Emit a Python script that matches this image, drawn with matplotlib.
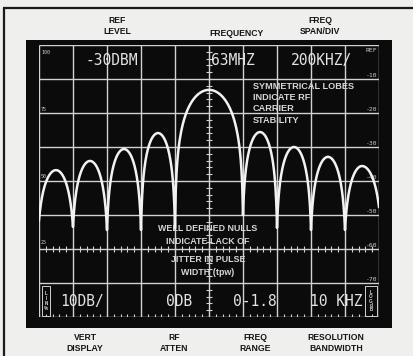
import numpy as np
import matplotlib
matplotlib.use('Agg')
import matplotlib.pyplot as plt
from matplotlib.patches import Rectangle

# spectrum trace, read per lobe: nulls (graticule divisions), null floors and lobe peaks (dB below REF)
null_div = [0, 1, 2, 3, 4, 6, 7, 8, 9, 10]
null_db = [-51.5, -53.5, -54.4, -54.4, -54.0, -50.0, -53.8, -54.4, -54.4, -47.6]
peak_db = [-36.8, -34.1, -30.6, -25.9, -13.2, -25.6, -30.0, -32.9, -35.6]

# crt readouts
top_readouts = ['-30DBM', '63MHZ', '200KHZ/']
top_readout_div = [2.15, 5.7, 8.3]
bottom_readouts = ['10DB/', '0DB', '0-1.8', '10 KHZ']
bottom_readout_div = [1.26, 4.12, 6.35, 8.74]

# scale labels printed on the graticule
lin_labels = ['100', '75', '50', '25']
lin_label_db = [-2.2, -19.1, -38.8, -58.2]
log_labels = ['REF', '-10', '-20', '-30', '-40', '-50', '-60', '-70']
log_label_db = [-1.5, -9.0, -19.0, -29.0, -39.0, -49.0, -59.0, -69.0]

# control names printed around the screen
top_names = ['REF\nLEVEL', 'FREQUENCY', 'FREQ\nSPAN/DIV']
bottom_names = ['VERT\nDISPLAY', 'RF\nATTEN', 'FREQ\nRANGE', 'RESOLUTION\nBANDWIDTH']

PAPER = '#efefed'
SCREEN = '#0b0b0b'
GRID = '#d2d2d2'
PHOSPHOR = '#f2f2f2'
CRT_FONT = ['Liberation Sans Narrow', 'DejaVu Sans Mono']
LABEL_FONT = ['Liberation Sans', 'DejaVu Sans']


def lobe(a, b, peak, fa, fb, k=1.15, n=90):
    # one sin(x)/x lobe in log scale, pinched so that it lands on the null floors
    t = np.linspace(0, 1, n)
    y = np.empty(n)
    left = t < 0.5
    for mask, floor in ((left, fa), (~left, fb)):
        t0 = np.arcsin(10 ** ((floor - peak) / (20 * k))) / np.pi
        te = t0 + t[mask] * (1 - 2 * t0)
        y[mask] = peak + k * 20 * np.log10(np.sin(np.pi * te))
    return a + t * (b - a), y


fig = plt.figure(figsize=(4.13, 3.56), dpi=100)
fig.patch.set_facecolor(PAPER)

# page layer in pixel units
bg = fig.add_axes([0, 0, 1, 1])
bg.set_xlim(0, 413)
bg.set_ylim(356, 0)
bg.axis('off')
bg.add_patch(Rectangle((26, 40), 366, 288, facecolor=SCREEN, edgecolor='none'))
bg.plot([3, 413], [8, 8], color='#1a1a1a', lw=1.6, solid_capstyle='butt')
bg.plot([4, 4], [8, 356], color='#1a1a1a', lw=1.6, solid_capstyle='butt')

for name, xc in zip(top_names, [117, 237, 320]):
    yc = 33 if '\n' not in name else 26
    bg.text(xc, yc, name, ha='center', va='center', fontsize=6.2, fontweight='bold',
            family=LABEL_FONT, color='#151515', linespacing=1.3)
for name, xc in zip(bottom_names, [85, 174, 255, 336]):
    bg.text(xc, 343, name, ha='center', va='center', fontsize=6.2, fontweight='bold',
            family=LABEL_FONT, color='#151515', linespacing=1.3)

# graticule: 10 x 8 divisions, 10 dB/div
ax = fig.add_axes([39 / 413, 1 - 317 / 356, 340 / 413, 272 / 356])
ax.set_xlim(0, 10)
ax.set_ylim(-80, 0)
ax.axis('off')
ax.patch.set_alpha(0)

ax.vlines(range(11), -80, 0, color=GRID, lw=1.0)
ax.hlines(range(-80, 1, 10), 0, 10, color=GRID, lw=1.0)

minor = np.arange(0, 10.01, 0.2)
ax.vlines(minor, -60.9, -59.1, color=GRID, lw=0.8)
ax.vlines(minor, -80, -79.0, color=GRID, lw=0.8)
ax.hlines(np.arange(-80, 0.1, 2), 4.91, 5.09, color=GRID, lw=0.8)

# trace
xs, ys = [], []
for i, peak in enumerate(peak_db):
    x, y = lobe(null_div[i], null_div[i + 1], peak, null_db[i], null_db[i + 1])
    xs.append(x)
    ys.append(y)
ax.plot(np.concatenate(xs), np.concatenate(ys), color=PHOSPHOR, lw=1.8,
        solid_joinstyle='round', zorder=4)

# readouts
for txt, xd in zip(top_readouts, top_readout_div):
    ax.text(xd, -4.7, txt, ha='center', va='center', fontsize=10.5, family=CRT_FONT,
            color='#e4e4e4', zorder=5)
for txt, xd in zip(bottom_readouts, bottom_readout_div):
    ax.text(xd, -75.3, txt, ha='center', va='center', fontsize=10.5, family=CRT_FONT,
            color='#e4e4e4', zorder=5)

for txt, yd in zip(lin_labels, lin_label_db):
    ax.text(0.06, yd, txt, ha='left', va='center', fontsize=3.6, family=CRT_FONT,
            color='#cfcfcf')
for txt, yd in zip(log_labels, log_label_db):
    ax.text(9.95, yd, txt, ha='right', va='center', fontsize=4.6, family=CRT_FONT,
            color='#cfcfcf')

# display mode boxes
ax.add_patch(Rectangle((0.1, -79.6), 0.22, 8.6, facecolor='none', edgecolor=GRID, lw=0.7))
ax.text(0.21, -75.3, 'L\nI\nN\n%', ha='center', va='center', fontsize=3.3,
        family=LABEL_FONT, fontweight='bold', color='#dcdcdc', linespacing=0.95)
ax.add_patch(Rectangle((9.6, -79.8), 0.33, 8.9, facecolor='none', edgecolor=GRID, lw=0.7))
ax.text(9.765, -75.3, 'L\nO\nG\nd\nB', ha='center', va='center', fontsize=3.3,
        family=LABEL_FONT, fontweight='bold', color='#dcdcdc', linespacing=0.85)

# callouts
for txt, yd in zip(['SYMMETRICAL LOBES', 'INDICATE RF', 'CARRIER', 'STABILITY'],
                   [-12.1, -15.4, -18.8, -22.3]):
    ax.text(6.29, yd, txt, ha='left', va='center', fontsize=6.6, fontweight='bold',
            family=LABEL_FONT, color='#d6d6d6', zorder=6)
for txt, yd in zip(['WELL DEFINED NULLS', 'INDICATE LACK OF', 'JITTER IN PULSE', 'WIDTH (tpw)'],
                   [-54.1, -57.9, -63.2, -66.8]):
    ax.text(4.97, yd, txt, ha='center', va='center', fontsize=6.4, fontweight='bold',
            family=LABEL_FONT, color='#d6d6d6', zorder=6)

fig.savefig('out.png', dpi=100, facecolor=PAPER)
